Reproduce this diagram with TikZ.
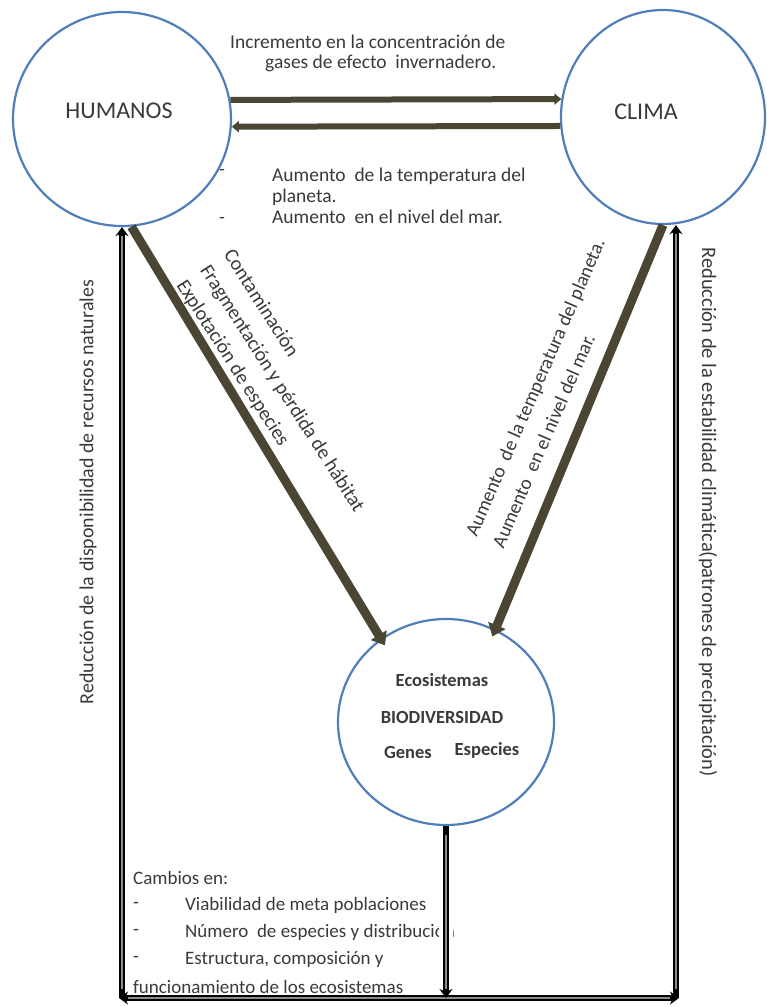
\documentclass[tikz,border=0pt]{standalone}
\usepackage{fontspec}
\setmainfont{Carlito}
\usetikzlibrary{arrows.meta,shapes.geometric}
\definecolor{ringblue}{HTML}{4F7EBB}
\definecolor{olivedark}{HTML}{4A4633}
\definecolor{inkgray}{HTML}{3A3A3A}
\definecolor{linegray}{HTML}{8C8C8C}

\begin{document}
\begin{tikzpicture}[x=1pt,y=-1pt,>={Stealth[length=9pt,width=13pt]},
  ring/.style={ellipse,draw=ringblue,line width=2.2pt,inner sep=0pt},
  link/.style={draw=olivedark,line width=6pt,-{Triangle[length=7pt,width=11pt]}},
  impact/.style={draw=olivedark,line width=9pt,-{Triangle[length=12pt,width=18pt]},shorten >=-8pt},
  frame/.style={draw=black,line width=6.5pt,postaction={draw=linegray,line width=2pt,-,shorten >=9pt,shorten <=9pt}},
  txt/.style={text=inkgray,font=\fontsize{19}{26}\selectfont,inner sep=0pt},
  big/.style={text=inkgray,font=\fontsize{24}{28}\selectfont,inner sep=0pt},
  bio/.style={text=inkgray,font=\bfseries\fontsize{18.5}{20}\selectfont,inner sep=0pt}]
  \useasboundingbox (0,0) rectangle (766,1007);

  \node[ring,minimum width=218pt,minimum height=214pt] (humanos) at (122,119) {};
  \node[ring,minimum width=204pt,minimum height=214pt] (clima) at (663,117) {};
  \node[ring,minimum width=216pt,minimum height=206pt] (biodiv) at (446,722) {};
  \node[big] (humtxt) at (119,111) {HUMANOS};
  \node[big] (climtxt) at (646,112) {CLIMA};
  \node[bio] (eco) at (442,680) {Ecosistemas};
  \node[bio] (biotxt) at (442,717) {BIODIVERSIDAD};
  \node[bio] (genes) at (408,752) {Genes};
  \node[bio] (especies) at (487,750) {Especies};

  \node[txt,anchor=west,font=\fontsize{19.5}{26}\selectfont] (incr1) at (230,42) {Incremento en la concentración de};
  \node[txt,anchor=west,font=\fontsize{19.5}{26}\selectfont] (incr2) at (265,63) {gases de efecto\ \ invernadero.};
  \node[txt,anchor=north west,align=left,font=\fontsize{19.5}{21}\selectfont] (aum) at (272,168)
    {Aumento\ \ de la temperatura del\\planeta.\\Aumento\ \ en el nivel del mar.};
  \node[txt] (dasha) at (222,172) {-};
  \node[txt] (dashb) at (222,220) {-};

  \node[txt,rotate=-57.5,anchor=west,align=left,font=\fontsize{20}{28}\selectfont] (pressures) at (204,267)
    {Contaminación\\Fragmentación y pérdida de hábitat\\Explotación de especies};
  \node[txt,rotate=66.5,anchor=west,align=left,font=\fontsize{19.5}{29}\selectfont] (warming) at (484,541)
    {Aumento\ \ de la temperatura del planeta.\\Aumento\ \ en el nivel del mar.};

  \node[txt,rotate=90,font=\fontsize{20}{24}\selectfont] (leftlbl) at (88,492) {Reducción de la disponibilidad de recursos naturales};
  \node[txt,rotate=-90,font=\fontsize{20.5}{24}\selectfont] (rightlbl) at (708,512) {Reducción de la estabilidad climática(patrones de precipitación)};

  \node[txt,anchor=west] (cambios) at (133,878) {Cambios en:};
  \foreach \entry [count=\i] in {Viabilidad de meta poblaciones,Número\ \ de especies y distribución,{Estructura, composición y}} {
    \node[txt,anchor=west] (dash\i) at (133,878+27*\i) {-};
    \node[txt,anchor=west] (entry\i) at (185,878+27*\i) {\entry};
  }
  \node[txt,anchor=west] (funcion) at (133,987) {funcionamiento de los ecosistemas};

  \coordinate (bl) at (122,998);
  \coordinate (br) at (676,998);
  \coordinate (bm) at (446,998);

  \draw[link] (humanos.10) -- (clima.170);
  \draw[link] (clima.185) -- (humanos.-4);
  \draw[impact] (humanos.-85) -- (biodiv.128);
  \draw[impact] (clima.-90) -- (biodiv.62);

  \draw[white,line width=14pt] (biodiv.south) -- (bm);
  \draw[frame,<->] ([xshift=-3pt]bl) -- ([xshift=3pt]br);
  \draw[frame,->] (bl) -- (humanos.south);
  \draw[frame,->] (br) -- (br |- clima.south);
  \draw[frame,->] (biodiv.south) -- (bm);
\end{tikzpicture}
\end{document}
